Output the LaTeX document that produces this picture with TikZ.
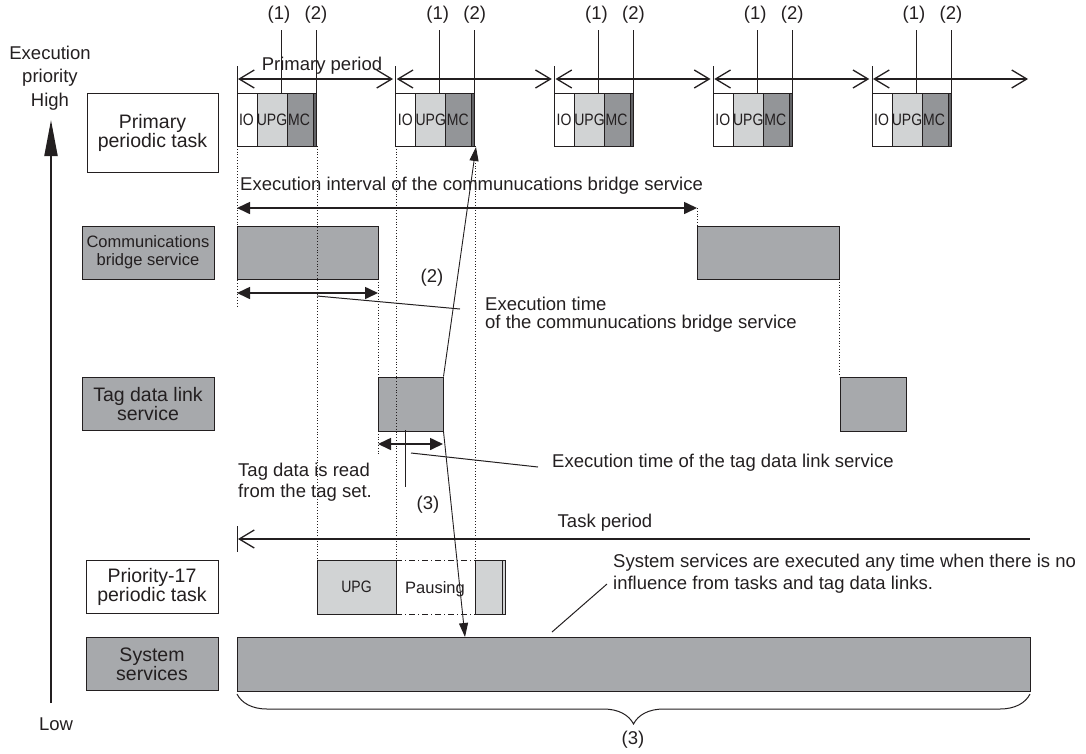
\documentclass[tikz,border=0pt]{standalone}
\usepackage{fontspec}
\setmainfont{Liberation Sans}
\usepackage{tikz}
\usetikzlibrary{arrows.meta,decorations.pathreplacing}

\definecolor{svcgray}{RGB}{167,169,172}
\definecolor{upggray}{RGB}{209,211,212}
\definecolor{mcgray}{RGB}{147,149,152}
\definecolor{endgray}{RGB}{98,99,102}
\definecolor{ink}{RGB}{35,31,32}

\tikzset{
 txt/.style={font=\fontsize{18.5}{21}\selectfont,inner sep=0pt,align=center,text=ink},
 txtl/.style={txt,align=left,anchor=west},
 lbl/.style={draw=ink,line width=1pt,minimum width=132pt,minimum height=53pt,align=center,inner sep=0pt,text=ink,font=\fontsize{19.5}{19}\selectfont},
 svcbox/.style={draw=ink,line width=1pt,fill=svcgray,inner sep=0pt},
 seg/.style={draw=ink,line width=1pt},
 small/.style={font=\fontsize{16.5}{16}\selectfont,inner sep=0pt,text=ink},
 guide/.style={ink,line width=0.8pt,dotted},
 period/.style={ink,line width=1.3pt,{Straight Barb[length=15pt,width=18pt]}-{Straight Barb[length=15pt,width=18pt]}},
 span/.style={ink,line width=1.6pt,{Triangle[length=13pt,width=12pt]}-{Triangle[length=13pt,width=12pt]}},
 jump/.style={ink,line width=0.9pt,-{Triangle[length=14pt,width=9pt]}},
 lead/.style={ink,line width=1pt}
}

\begin{document}
\begin{tikzpicture}[x=1pt,y=-1pt]
\useasboundingbox (0,0) rectangle (1086,753);
% priority axis
\node[txt,font=\fontsize{18.5}{23.5}\selectfont] (high) at (50,78) {Execution\\priority\\High};
\node[txt] (low) at (56,724) {Low};
\coordinate (axbot) at (51,703);
\coordinate (axtop) at (51,120);
\draw[ink,line width=2pt,-{Triangle[length=36pt,width=13pt]}] (axbot) -- (axtop);
% task labels
\node[lbl,minimum width=131pt,minimum height=79pt] (prim) at (152.5,132.5) {Primary\\periodic task};
\node[lbl,fill=svcgray,font=\fontsize{16.5}{18}\selectfont] (cbs) at (148,252.5) {Communications\\bridge service};
\node[lbl,fill=svcgray] (tdl) at (148,404) {Tag data link\\service};
\node[lbl] (p17) at (152,586.5) {Priority-17\\periodic task};
\node[lbl,fill=svcgray] (sys) at (152,664) {System\\services};
% primary periods
\foreach \i in {0,...,4}{
 \pgfmathsetmacro\x{237+158.75*\i}
 \draw[seg,fill=white] (\x,93) rectangle ++(20,53);
 \draw[seg,fill=upggray] (\x+20,93) rectangle ++(30,53);
 \draw[seg,fill=mcgray] (\x+50,93) rectangle ++(26,53);
 \draw[seg,fill=endgray] (\x+76,93) rectangle ++(3,53);
 \node[small] at (\x+9.5,120) {\scalebox{0.85}[1]{IO}};
 \node[small] at (\x+35,120) {\scalebox{0.85}[1]{UPG}};
 \node[small] at (\x+62,120) {\scalebox{0.85}[1]{MC}};
 \draw[lead] (\x,66) -- (\x,93);
 \draw[period] (\x+1,79) -- (\x+156,79);
 \draw[lead] (\x+44,30) -- (\x+44,93) (\x+79,30) -- (\x+79,93);
 \node[txt] at (\x+42,15) {(1)};
 \node[txt] at (\x+79,15) {(2)};
}
\node[txt] (pp) at (322,66) {Primary period};
\coordinate (mc2) at (476,147);
% communications bridge service
\node[svcbox,minimum width=141pt,minimum height=53pt] (br1) at (307.5,252.5) {};
\node[svcbox,minimum width=142pt,minimum height=53pt] (br2) at (768,252.5) {};
\node[txtl] (eint) at (240,186) {Execution interval of the communucations bridge service};
\draw[span] (237,208) -- (697,208);
\draw[span] (237,293) -- (378,293);
\draw[lead] (317,296) -- (460,309);
\node[txtl,font=\fontsize{18.5}{18}\selectfont] (etime) at (485,315) {Execution time\\of the communucations bridge service};
\node[txt] (n2) at (432,278) {(2)};
% tag data link service
\node[svcbox,minimum width=65pt,minimum height=54pt] (tag1) at (410.5,404) {};
\node[svcbox,minimum width=66pt,minimum height=54pt] (tag2) at (873,404) {};
\draw[span] (378,444) -- (443,444);
\draw[lead] (405,430) -- (405,487);
\draw[lead] (411,453) -- (538,467);
\node[txtl] (etag) at (552,463) {Execution time of the tag data link service};
\node[txtl] (read) at (238,482) {Tag data is read\\from the tag set.};
\node[txt] (n3) at (428,505) {(3)};
% task period
\draw[lead] (237,526) -- (237,552);
\draw[ink,line width=1.3pt,{Straight Barb[length=15pt,width=18pt]}-] (238,539) -- (1030,539);
\node[txt] (tp) at (605,523) {Task period};
% priority-17 task
\node[draw=ink,line width=1pt,fill=upggray,inner sep=0pt,minimum width=79pt,minimum height=54pt] (upg) at (356.5,587) {};
\node[small] at (upg) {\scalebox{0.85}[1]{UPG}};
\draw[ink,line width=0.9pt,dash pattern=on 6pt off 3pt on 1pt off 3pt] (396,560) -- (475,560) (396,614) -- (475,614);
\node[txtl,font=\fontsize{16.5}{16}\selectfont] (pause) at (405,589) {Pausing};
\draw[seg,fill=upggray] (475,560) rectangle (502,614);
\draw[seg,fill=upggray] (502,560) rectangle (505,614);
% system services
\node[svcbox,minimum width=793pt,minimum height=54pt] (bar) at (633.5,664) {};
\coordinate (hit) at (465,637);
\draw[lead] (552,632) -- (607,584);
\node[txtl,font=\fontsize{18.5}{22}\selectfont] (sysnote) at (613,574) {System services are executed any time when there is no\\influence from tasks and tag data links.};
\draw[ink,line width=1pt,decorate,decoration={brace,mirror,amplitude=30pt}] (237,694) -- (1030,694);
\node[txt] (n3b) at (633,740) {(3)};
% guides
\draw[guide] (237,146) -- (237,307) (317,146) -- (317,560) (396,146) -- (396,560) (475,146) -- (475,560)
 (378,279) -- (378,377) (378,431) -- (378,455) (697,208) -- (697,226) (839,279) -- (839,377);
% jumps
\draw[jump] (tag1.north east) -- (mc2);
\draw[jump] (tag1.south east) -- (hit);
\end{tikzpicture}
\end{document}
